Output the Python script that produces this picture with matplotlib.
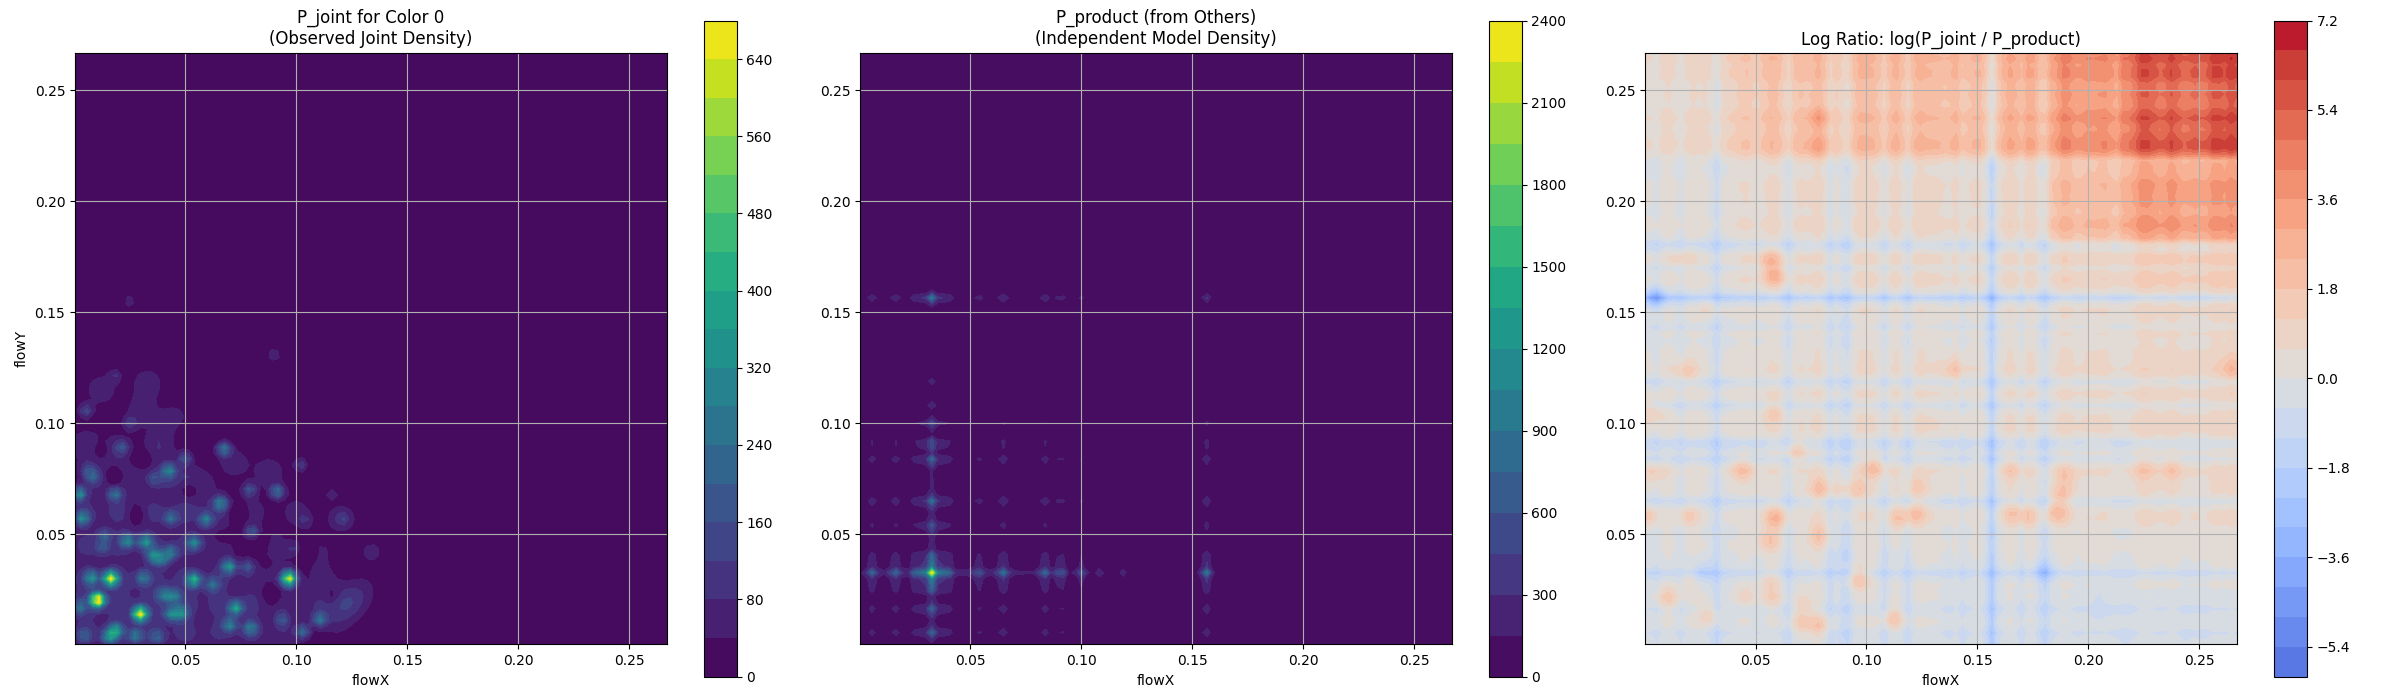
#!/usr/bin/env python3
# -*- coding: utf-8 -*-

import matplotlib
matplotlib.use('Agg')
import matplotlib.pyplot as plt
import numpy as np

# observed blobs
joint_x = [.0105, .0296, .0164, .0967, .0078, .0539, .0727, .0697, .0434, .0480,
           .0404, .0449, .0186, .0156, .0276, .0700, .0794, .1105, .1030, .0935,
           .0622, .0309, .0239, .0321, .0359, .0434, .0396, .0539, .0592, .0802,
           .0434, .0659, .0914, .0790, .0674, .0498, .0426, .0021, .0036, .0183,
           .0081, .0058, .0216, .0051, .1020, .0990, .0126, .0134, .0779, .0021,
           .0044, .0374, .0360, .0250, .0183, .0900, .0250, .1210, .1160, .1040]
joint_y = [.0204, .0140, .0300, .0300, .0303, .0294, .0167, .0354, .0140, .0144,
           .0227, .0219, .0066, .0036, .0041, .0091, .0077, .0115, .0061, .0115,
           .0272, .0303, .0471, .0467, .0402, .0417, .0385, .0462, .0565, .0508,
           .0572, .0640, .0692, .0700, .0884, .0842, .0787, .0682, .0572, .0680,
           .0760, .0790, .0892, .1056, .0812, .0435, .0437, .0492, .0354, .0170,
           .0042, .0036, .0750, .1000, .1215, .1308, .1550, .0570, .0680, .0560]
joint_amp = [740, 680, 640, 600, 270, 370, 350, 330, 250, 270,
             220, 230, 300, 280, 230, 250, 220, 230, 220, 140,
             180, 200, 270, 290, 270, 230, 200, 260, 250, 190,
             200, 250, 240, 170, 260, 160, 250, 320, 270, 220,
             140, 110, 130, 150, 120, 90, 120, 160, 160, 190,
             120, 140, 110, 100, 80, 80, 70, 70, 70, 70]

# low blobs that make the pale floor of the left panel
floor_x = [.005, .020, .035, .050, .065, .080, .095, .005, .020, .035, .050, .065,
           .080, .095, .110, .120, .005, .020, .035, .050, .065, .080, .095, .112,
           .125, .005, .020, .035, .050, .065, .090, .110, .120, .134, .005, .020,
           .035, .050, .065, .080, .010, .025, .040, .005, .018, .038, .050, .030,
           .012, .033, .045, .057, .072, .088, .100, .118, .130]
floor_y = [.005, .005, .005, .005, .005, .005, .005, .018, .018, .018, .018, .018,
           .018, .018, .018, .020, .030, .030, .030, .030, .030, .030, .030, .030,
           .018, .045, .045, .045, .045, .045, .045, .042, .057, .042, .060, .060,
           .060, .060, .060, .060, .075, .075, .075, .090, .088, .090, .075, .105,
           .115, .118, .102, .072, .082, .078, .060, .010, .025]
floor_amp = [95, 95, 95, 95, 85, 85, 70, 95, 95, 95, 95, 85, 85, 60, 70, 70,
             95, 95, 95, 95, 85, 60, 70, 50, 60, 95, 95, 95, 85, 85, 60, 50,
             65, 50, 85, 95, 95, 95, 85, 65, 85, 80, 80, 80, 75, 80, 60, 65,
             70, 70, 60, 60, 65, 70, 60, 50, 50]

# dark holes in the floor of the left panel
hole_x = [.0180, .0280, .0740, .0520, .0890, .1160, .0830, .0120, .0300, .0510, .1050, .0660]
hole_y = [.0760, .0590, .0595, .0700, .0230, .0220, .0470, .0880, .0840, .0960, .0420, .0480]
hole_amp = [-110, -80, -110, -90, -100, -70, -70, -70, -60, -60, -70, -60]

# peaks of the marginal density, same for flowX and flowY
marg_pos = [.0056, .0161, .0261, .0326, .0392, .0536, .0647, .0835, .0907, .0997,
            .1003, .1083, .1188, .1563]
marg_amp = [.25, .23, .29, 1.0, .31, .17, .27, .26, .24, .10, .10, .10, .09, .37]
marg_floor_pos = [.010, .025, .040, .055, .070, .085]
marg_floor_amp = [.042, .042, .042, .038, .038, .03]

# log ratio: dips and ridges along both flow axes
dip_pos = [.0323, .0646, .0832, .0908, .1079, .1183, .1373, .1428, .1563, .1697, .1799, .0161, .0056]
dip_amp = [-1.1, -.9, -.9, -1.1, -.8, -.8, -.5, -.6, -2.0, -.7, -1.1, -.4, -.4]
ridge_pos = [.0100, .0220, .0450, .0580, .0700, .0788, .0980, .1040, .1133, .1240, .1310, .1395, .1500,
             .1657, .1734, .1897, .2000, .2070, .2247, .2300, .2378, .2480, .2574, .2650]
ridge_amp = [.5, .5, .5, .7, .5, .9, .8, .6, .8, .8, .5, .9, .4,
             .8, .8, .8, .5, .6, .9, .5, .9, .4, .8, .9]

# how strongly each column and row feeds the upper right corner, grid step by step
corner_x = [.15] * 10 + [.25, .25, .28, .30, .32, .35, .38, .40, .40, .42] \
    + [.50] * 10 + [.50, .50, .50, .50, .50, .52, .52, .52, .52, .52] \
    + [.55] * 10 + [.60] * 10 + [.68, .68, .68, .70, .70, .70, .72, .80, .85, .85] \
    + [.90] * 10 + [1.20] * 10 + [1.30] * 10
corner_y = [-.30] * 10 + [.05] * 10 + [.20] * 10 + [.25] * 10 + [.30] * 10 \
    + [.30, .30, .30, .30, .30, .30, .45, .60, .60, .60] \
    + [.60, .60, .60, .60, .60, .60, .60, .60, .70, .70] \
    + [.70] * 10 + [.70, 1.30, 2.3, 2.5, 2.5, 2.5, 2.5, 2.5, 2.5, 2.5] \
    + [2.6] * 10

# extra block right of flowX 0.185 and above flowY 0.18
block_x = [0.0] * 67 + [.3] + [.6] * 12 + [1.0] * 20
block_y = [0.0] * 67 + [.7] + [1.5] * 13 + [.5] * 19

# warm and cold patches of the log ratio
spot_x = [.0592, .0679, .0795, .0788, .0439, .1035, .1854, .1897, .1220, .1155,
          .1122, .0788, .0707, .0963, .0107, .0293, .0561, .0576, .0031, .0020,
          .0183, .1395, .2650, .0041, .0587, .0587, .0565, .0172, .0293, .0788,
          .0783, .0052, .0253, .1799, .0959, .0895, .1875, .1220, .1657, .1723,
          .1657, .2247, .2378, .0194, .0718, .0565, .0196, .0456, .2050, .2050,
          .1112, .0893]
spot_y = [.0572, .0875, .0707, .0497, .0790, .0802, .0595, .0760, .0595, .0572,
          .0122, .0084, .0092, .0302, .0212, .0141, .0475, .0212, .1052, .0580,
          .1233, .1240, .1248, .0775, .1052, .1668, .1736, .1743, .1525, .2374,
          .2246, .1566, .0329, .0332, .0700, .0700, .0670, .0715, .0790, .0580,
          .0595, .0790, .0790, .0580, .0174, .0294, .0302, .0219, .0130, .0220,
          .0415, .0415]
spot_amp = [2.2, 1.8, 1.8, 1.8, 1.7, 1.8, 1.8, 1.2, 1.6, 1.4,
            1.8, 1.7, 1.4, 2.0, 1.5, 1.6, 1.7, 1.2, 1.4, 1.4,
            1.4, 1.4, 1.4, 1.3, 1.1, 2.0, 1.6, .9, .9, 1.2,
            1.0, -2.5, -1.2, -1.5, 1.2, 1.1, 1.6, 1.2, 1.1, 1.2,
            1.2, 1.0, 1.0, 1.2, 1.3, 1.1, .9, .9, -.6, -.6,
            -.5, -.6]

joint_levels = np.arange(0, 681, 40)
product_levels = np.arange(0, 2401, 150)
ratio_levels = np.arange(-6.0, 7.21, 0.6)


def bumps(u, pos, amp, width):
    """Sum of gaussian bumps along one axis."""
    out = np.zeros_like(u)
    for p, a in zip(pos, amp):
        out += a * np.exp(-(u - p) ** 2 / (2 * width ** 2))
    return out


def blobs(xx, yy, px, py, amp, width):
    """Kernel smoothing of weighted points on the grid."""
    out = np.zeros_like(xx)
    for x0, y0, a in zip(px, py, amp):
        out += a * np.exp(-((xx - x0) ** 2 + (yy - y0) ** 2) / (2 * width ** 2))
    return out


def style_axes(ax, title):
    ax.set_title(title)
    ax.set_xlabel('flowX')
    ax.set_aspect('equal')
    ax.grid(True)


if __name__ == '__main__':

    grid = np.linspace(0.0003, 0.267, 100)
    xx, yy = np.meshgrid(grid, grid)

    p_joint = blobs(xx, yy, joint_x, joint_y, joint_amp, 0.0021) \
        + blobs(xx, yy, floor_x, floor_y, floor_amp, 0.0052) \
        + blobs(xx, yy, hole_x, hole_y, hole_amp, 0.0028)

    marg = bumps(grid, marg_pos, marg_amp, 0.0017) \
        + bumps(grid, marg_floor_pos, marg_floor_amp, 0.0120)
    p_product = 2400 * np.outer(marg, marg)

    sx = bumps(grid, dip_pos, dip_amp, 0.0016)
    rx = bumps(grid, ridge_pos, ridge_amp, 0.0026)
    ridges = rx[:, None] + rx[None, :]
    corner = np.outer(corner_y, corner_x) + np.outer(block_y, block_x)
    ratio = sx[:, None] + sx[None, :] + corner * (1 + 0.3 * ridges) + 0.55 * ridges - 0.25 \
        + blobs(xx, yy, spot_x, spot_y, spot_amp, 0.0035)

    fig, axes = plt.subplots(1, 3, figsize=(24, 7))

    cf = axes[0].contourf(xx, yy, np.clip(p_joint, 0, 679), levels=joint_levels, cmap='viridis')
    fig.colorbar(cf, ax=axes[0])
    style_axes(axes[0], 'P_joint for Color 0\n(Observed Joint Density)')
    axes[0].set_ylabel('flowY')

    cf = axes[1].contourf(xx, yy, np.clip(p_product, 0, 2399), levels=product_levels, cmap='viridis')
    fig.colorbar(cf, ax=axes[1])
    style_axes(axes[1], 'P_product (from Others)\n(Independent Model Density)')

    cf = axes[2].contourf(xx, yy, np.clip(ratio, -5.99, 7.19), levels=ratio_levels,
                          cmap='coolwarm', vmin=-7.2, vmax=7.2)
    fig.colorbar(cf, ax=axes[2])
    style_axes(axes[2], 'Log Ratio: log(P_joint / P_product)')

    plt.tight_layout()
    plt.savefig('out.png', dpi=100)
